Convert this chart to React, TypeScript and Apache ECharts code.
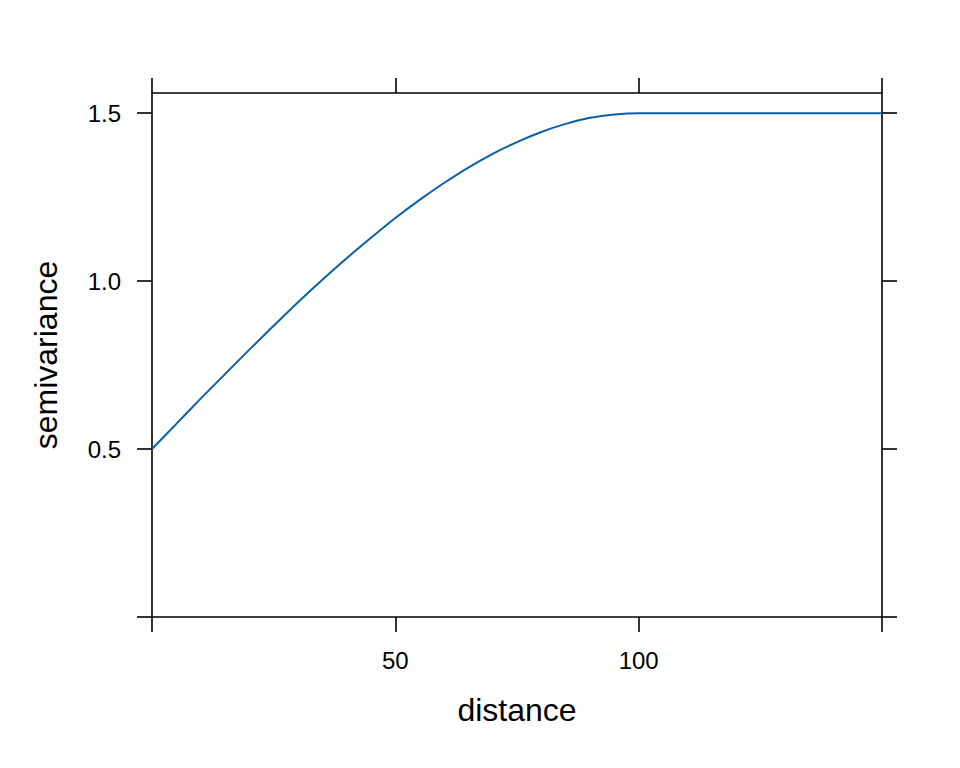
import React, { useEffect, useRef } from "react";
import * as echarts from "echarts";

// distance values (x) and fitted semivariance values
const distance = [0, 5, 10, 15, 20, 25, 30, 35, 40, 45, 50, 55, 60, 65, 70, 75, 80, 85, 90, 95, 100, 150];
const semivariance = [0.5, 0.575, 0.65, 0.723, 0.796, 0.867, 0.937, 1.004, 1.068, 1.129, 1.188, 1.242, 1.292, 1.338, 1.379, 1.414, 1.444, 1.468, 1.486, 1.496, 1.5, 1.5];
const xTicks = [0, 50, 100, 150];
const xLabels = [50, 100];
const yTicks = [0, 0.5, 1, 1.5];
const yLabels = [0.5, 1, 1.5];

const FONT = "'Liberation Sans', Arial, Helvetica, sans-serif";

export default function App() {
  const ref = useRef<HTMLDivElement>(null);
  useEffect(() => {
    if (!ref.current) return;
    const chart = echarts.init(ref.current, undefined, { renderer: "svg" });
    const lineStyle = { color: "#000", width: 1.6 };
    const xBase = {
      type: "value" as const,
      min: 0,
      max: 150,
      interval: 50,
      splitLine: { show: false },
      axisLine: { show: true, onZero: false, lineStyle },
      axisTick: { show: true, length: 15, inside: false, lineStyle, customValues: xTicks },
    };
    const yBase = {
      type: "value" as const,
      min: 0,
      max: 1.56,
      interval: 0.5,
      splitLine: { show: false },
      axisLine: { show: true, onZero: false, lineStyle },
      axisTick: { show: true, length: 15, inside: false, lineStyle, customValues: yTicks },
    };
    chart.setOption({
      animation: false,
      backgroundColor: "#fff",
      grid: { left: 144, right: 70, top: 85, bottom: 143, containLabel: false },
      xAxis: [
        {
          ...xBase,
          position: "bottom",
          name: "distance",
          nameLocation: "middle",
          nameGap: 77,
          nameTextStyle: { fontFamily: FONT, fontSize: 32, color: "#000" },
          axisLabel: {
            show: true,
            margin: 31,
            fontFamily: FONT,
            fontSize: 24,
            color: "#000",
            customValues: xLabels,
            formatter: (v: number) => String(v),
          },
        },
        { ...xBase, position: "top", axisLabel: { show: false } },
      ],
      yAxis: [
        {
          ...yBase,
          position: "left",
          name: "semivariance",
          nameLocation: "middle",
          nameGap: 90,
          nameRotate: 90,
          nameTextStyle: { fontFamily: FONT, fontSize: 32, color: "#000" },
          axisLabel: {
            show: true,
            margin: 31,
            fontFamily: FONT,
            fontSize: 24,
            color: "#000",
            customValues: yLabels,
            formatter: (v: number) => v.toFixed(1),
          },
        },
        { ...yBase, position: "right", axisLabel: { show: false } },
      ],
      series: [
        {
          type: "line",
          xAxisIndex: 0,
          yAxisIndex: 0,
          data: distance.map((d, i) => [d, semivariance[i]]),
          showSymbol: false,
          smooth: 0.3,
          lineStyle: { color: "#0b5fa5", width: 2 },
          clip: true,
        },
      ],
    });
    return () => chart.dispose();
  }, []);
  return <div ref={ref} style={{ width: 944, height: 752 }} />;
}
